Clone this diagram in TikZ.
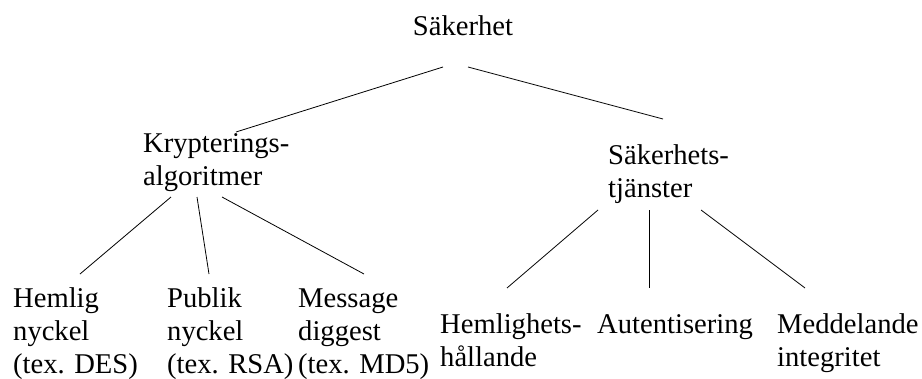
\documentclass[tikz,border=0pt]{standalone}
\usepackage{fontspec}
\setmainfont{Liberation Serif}
\usetikzlibrary{calc}
\newcommand{\stk}[1]{\begin{tabular}[t]{@{}l@{}}#1\end{tabular}}
\begin{document}
\begin{tikzpicture}[x=1pt,y=-1pt,
  lbl/.style={inner sep=0pt, font=\fontsize{28.6}{33}\selectfont},
  edge/.style={line width=0.8pt}]
\useasboundingbox (0,0) rectangle (922,378);
\node[lbl, anchor=base] (sak) at (463,35) {Säkerhet};
\node[lbl, anchor=base west] (kry) at (143,152) {\stk{Krypterings-\\algoritmer}};
\node[lbl, anchor=base west] (tja) at (608,164) {\stk{Säkerhets-\\tjänster}};
\node[lbl, anchor=base west] (hem) at (13,307) {\stk{Hemlig\\nyckel\\(tex. DES)}};
\node[lbl, anchor=base west] (pub) at (167,307) {\stk{Publik\\nyckel\\(tex. RSA)}};
\node[lbl, anchor=base west] (mes) at (298,307) {\stk{Message\\diggest\\(tex. MD5)}};
\node[lbl, anchor=base west] (hh) at (440,333) {\stk{Hemlighets-\\hållande}};
\node[lbl, anchor=base west] (aut) at (597,333) {Autentisering};
\node[lbl, anchor=base west] (med) at (777,333) {\stk{Meddelande\\integritet}};
\draw[edge] ($(sak.base)+(-20,32)$) -- ($(kry.base west)+(93,-20)$);
\draw[edge] ($(sak.base)+(5,32)$) -- ($(tja.base west)+(55,-45)$);
\draw[edge] ($(kry.base west)+(28,45)$) -- ($(hem.base west)+(67,-33)$);
\draw[edge] ($(kry.base west)+(54,45)$) -- ($(pub.base west)+(42,-33)$);
\draw[edge] ($(kry.base west)+(79,45)$) -- ($(mes.base west)+(66,-33)$);
\draw[edge] ($(tja.base west)+(-10,46)$) -- ($(hh.base west)+(67,-45)$);
\draw[edge] ($(tja.base west)+(41,46)$) -- ($(aut.base west)+(52,-45)$);
\draw[edge] ($(tja.base west)+(93,46)$) -- ($(med.base west)+(28,-45)$);
\end{tikzpicture}
\end{document}
